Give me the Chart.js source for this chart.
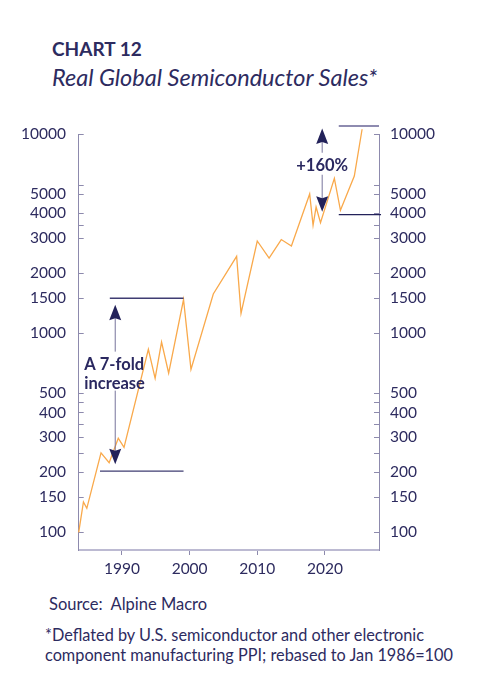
<!DOCTYPE html>
<html>
<head>
<meta charset="utf-8">
<script src="https://cdn.jsdelivr.net/npm/chart.js@4.4.1/dist/chart.umd.min.js"></script>
<style>
  body { margin: 0; background: #fff; width: 487px; height: 700px; position: relative; overflow: hidden;
         font-family: Lato, "Noto Sans", sans-serif; color: #2d2b5f; }
  .txt { position: absolute; white-space: nowrap; line-height: 1; }
  #title { left: 52px; top: 39px; font-size: 19px; font-weight: 700; }
  #subtitle { left: 52px; top: 65.5px; font-size: 23.5px; font-style: italic; }
  #source { left: 49px; top: 595.5px; font-size: 16.5px; }
  #note { left: 45px; top: 625px; font-size: 16.3px; line-height: 20.3px; }
  #wrap { position: absolute; left: 0; top: 100px; width: 487px; height: 480px; }
</style>
</head>
<body>
<div class="txt" id="title">CHART 12</div>
<div class="txt" id="subtitle">Real Global Semiconductor Sales*</div>
<div id="wrap"><canvas id="chart" width="487" height="480"></canvas></div>
<div class="txt" id="source">Source:&nbsp; Alpine Macro</div>
<div class="txt" id="note">*Deflated by U.S. semiconductor and other electronic<br>component manufacturing PPI; rebased to Jan 1986=100</div>

<script>
// values (index, Jan 1986 = 100, log scale)
const years = [1983.6, 1984.3, 1984.8, 1986.9, 1988.1, 1989.45, 1990.3, 1993.9, 1994.9, 1995.85,
               1996.9, 1999.1, 2000.2, 2003.5, 2006.95, 2007.6, 2010.0, 2011.75, 2013.55, 2015.05,
               2017.75, 2018.25, 2018.7, 2019.35, 2021.4, 2022.3, 2024.35, 2025.5];
const sales = [100, 142, 132, 251, 224, 297, 267, 831, 594, 904,
               630, 1478, 659, 1576, 2438, 1260, 2910, 2390, 2960, 2746,
               5010, 3490, 4310, 3600, 6010, 4150, 6170, 10600];

const yLabels = [100, 150, 200, 300, 400, 500, 1000, 1500, 2000, 3000, 4000, 5000, 10000];
const yMinor = [250, 350, 450, 3500, 5500];
const xTicks = [1990, 2000, 2010, 2020];

const navy = '#2d2b5f';
const axisGrey = '#8d8aad';
const tickFont = { family: 'Lato', size: 15.5 };

const yTickValues = yLabels.concat(yMinor).sort((a, b) => a - b);

function yAxis(position, width, pad) {
  return {
    type: 'logarithmic',
    position: position,
    min: 81.5,
    max: 10000,
    afterBuildTicks: (s) => { s.ticks = yTickValues.map(v => ({ value: v })); },
    afterFit: (s) => { s.width = width; },
    grid: { drawOnChartArea: false, tickLength: -5, color: axisGrey, lineWidth: 1 },
    border: { color: axisGrey, width: 1 },
    ticks: {
      autoSkip: false,
      padding: pad,
      color: navy,
      font: tickFont,
      callback: (v) => yLabels.includes(v) ? String(v) : ''
    }
  };
}

// arrows, brackets and labels
function head(ctx, x, y, dir) {
  // dir = -1 points up, 1 points down
  ctx.beginPath();
  ctx.moveTo(x, y);
  ctx.lineTo(x - 6, y - dir * 15.5);
  ctx.lineTo(x, y - dir * 13.5);
  ctx.lineTo(x + 6, y - dir * 15.5);
  ctx.closePath();
  ctx.fill();
}

function hline(ctx, x, y, x0, x1, v, color, w) {
  const py = y.getPixelForValue(v);
  ctx.strokeStyle = color;
  ctx.lineWidth = w;
  ctx.beginPath();
  ctx.moveTo(x.getPixelForValue(x0), py);
  ctx.lineTo(x.getPixelForValue(x1), py);
  ctx.stroke();
}

function arrow(ctx, x, y, xv, topV, botV, midV, gapUp, gapDown) {
  const px = x.getPixelForValue(xv);
  const t = y.getPixelForValue(topV);
  const b = y.getPixelForValue(botV);
  const m = y.getPixelForValue(midV);
  ctx.strokeStyle = '#77749c';
  ctx.lineWidth = 1;
  ctx.beginPath();
  ctx.moveTo(px, t + 13);
  ctx.lineTo(px, m - gapUp);
  ctx.moveTo(px, m + gapDown);
  ctx.lineTo(px, b - 13);
  ctx.stroke();
  ctx.fillStyle = '#23225a';
  head(ctx, px, t, -1);
  head(ctx, px, b, 1);
  return { px, m };
}

const notes = {
  id: 'notes',
  afterDatasetsDraw(chart) {
    const { ctx, scales: { x, y } } = chart;
    ctx.save();
    hline(ctx, x, y, 1988.2, 1999.1, 1500, '#3f3c72', 1.3);
    hline(ctx, x, y, 1986.75, 1999.1, 203, '#3f3c72', 1.3);
    hline(ctx, x, y, 2022.05, 2028.0, 11000, '#8e8bb0', 2);
    hline(ctx, x, y, 2022.05, 2028.3, 3950, '#23225a', 1.3);

    const a = arrow(ctx, x, y, 1989.0, 1390, 220, 620, 23, 16);
    ctx.fillStyle = '#2a2860';
    ctx.font = 'bold 16.5px Lato';
    ctx.textAlign = 'left';
    ctx.textBaseline = 'middle';
    ctx.fillText('A 7-fold', 84.3, a.m - 9.5);
    ctx.fillText('increase', 84.3, a.m + 9.5);

    const b = arrow(ctx, x, y, 2019.6, 10700, 4080, 6950, 13, 9);
    ctx.fillStyle = '#2a2860';
    ctx.textAlign = 'center';
    ctx.fillText('+160%', b.px, b.m);
    ctx.restore();
  }
};

new Chart(document.getElementById('chart'), {
  type: 'line',
  data: {
    datasets: [{
      data: years.map((yr, i) => ({ x: yr, y: sales[i] })),
      borderColor: '#f9a94b',
      borderWidth: 1.3,
      pointRadius: 0,
      tension: 0,
      clip: false
    }]
  },
  options: {
    responsive: false,
    animation: false,
    layout: { padding: { top: 34.3, left: 0, right: 0, bottom: 0 } },
    plugins: { legend: { display: false }, tooltip: { enabled: false } },
    scales: {
      x: {
        type: 'linear',
        min: 1983.6,
        max: 2028,
        afterBuildTicks: (s) => { s.ticks = xTicks.map(v => ({ value: v })); },
        afterFit: (s) => { s.height = 30; },
        grid: { drawOnChartArea: false, tickLength: 5, color: axisGrey },
        border: { color: '#bcbad2', width: 2 },
        ticks: { autoSkip: false, padding: 5, color: navy, font: tickFont, callback: (v) => String(v) }
      },
      y: yAxis('left', 78.7, 17.7),
      y2: yAxis('right', 108, 16)
    }
  },
  plugins: [notes]
});
</script>
</body>
</html>
